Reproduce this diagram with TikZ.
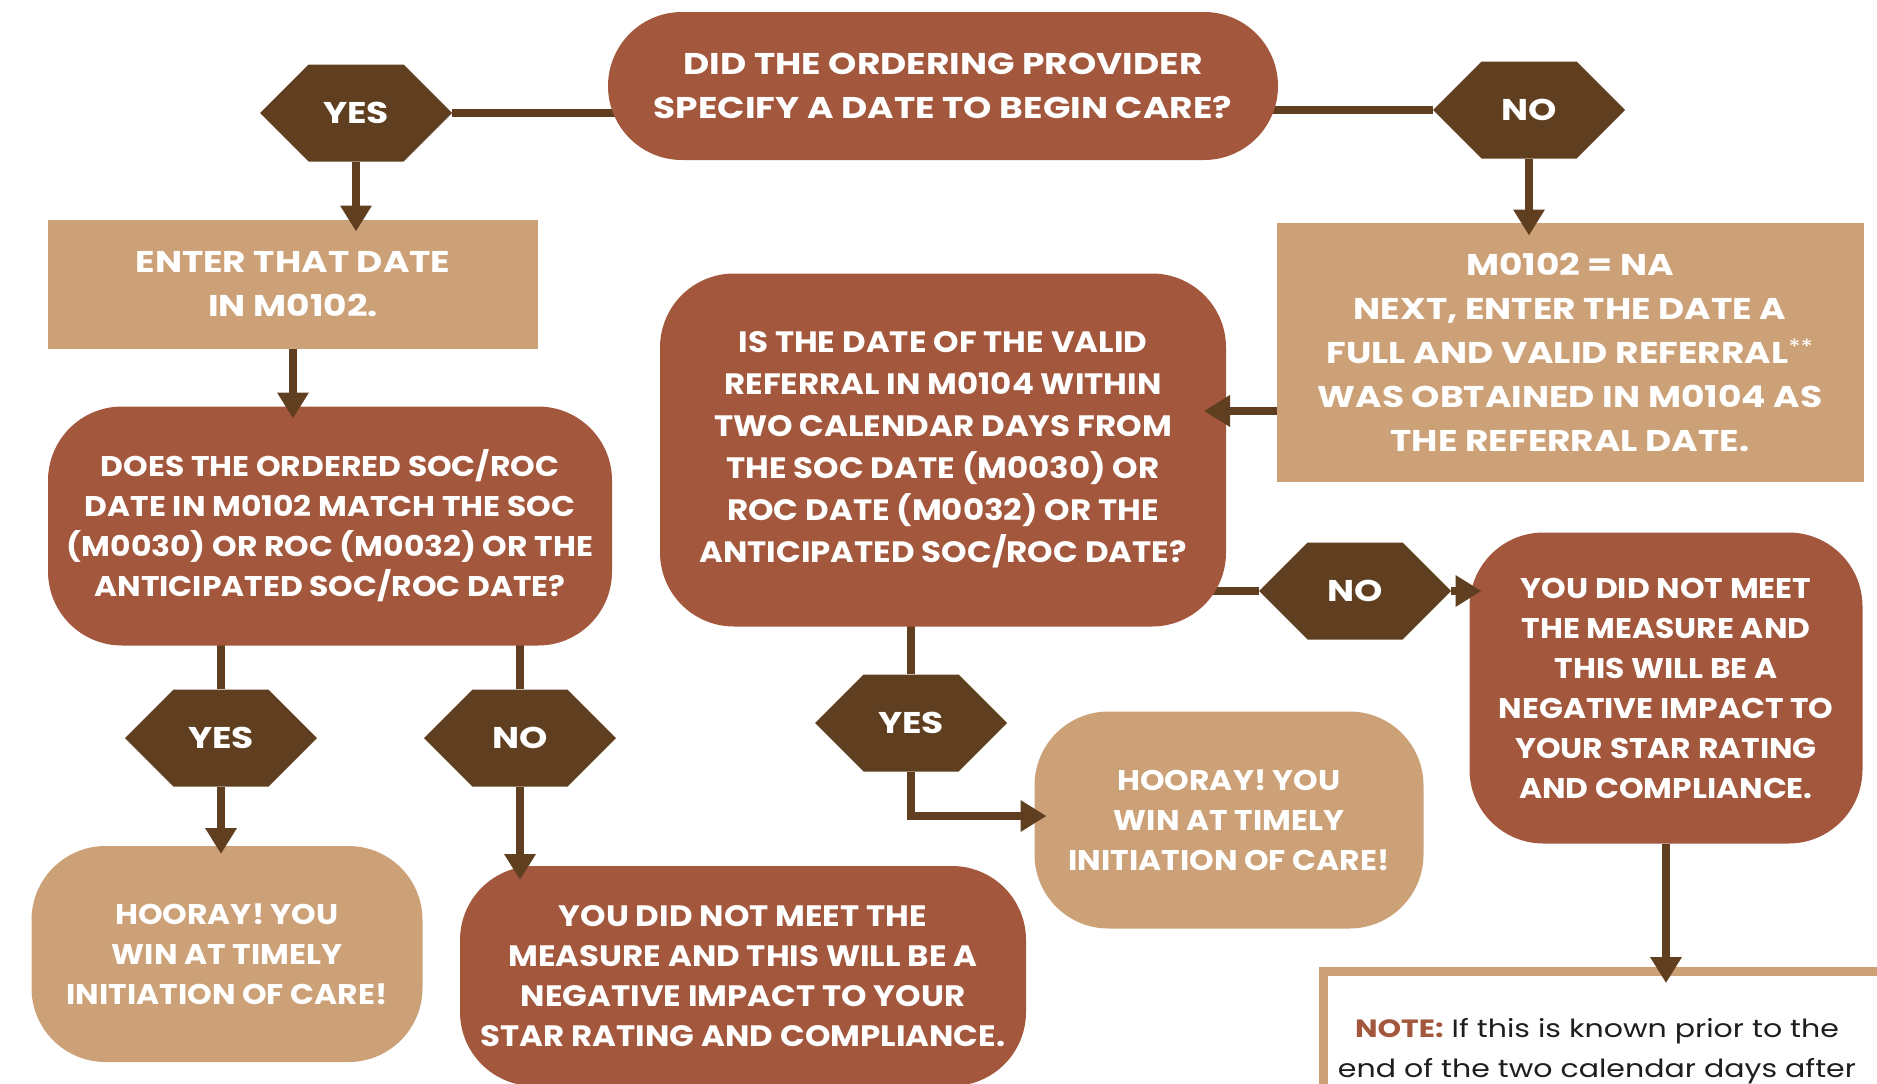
\documentclass[tikz,border=0pt]{standalone}
\usepackage{fontspec}
\setmainfont{Poppins}[FakeStretch=1.2]
\newfontfamily\slimfont{Poppins}[FakeStretch=1.1]
\usepackage{xcolor}
\usepackage{tikz}
\usetikzlibrary{arrows.meta, shapes.symbols, backgrounds}
\definecolor{rust}{HTML}{A3573D}
\definecolor{sand}{HTML}{CDA177}
\definecolor{bark}{HTML}{5F3F20}
\definecolor{ink}{HTML}{1E1E1E}
\tikzset{
	x = 1pt,
	y = -1pt,
	line width = 7.5pt,
	>={Triangle[length=26pt,width=30pt]},
	font = \bfseries\fontsize{30}{42}\selectfont,
	slim/.style={font=\slimfont\bfseries\fontsize{#1}{40}\selectfont},
	card/.style={
		text=white,
		align=center,
		inner sep=0pt,
		outer sep=0pt
	},
	ask/.style={
		card,
		fill=rust,
		rounded corners=74pt
	},
	win/.style={
		card,
		fill=sand,
		rounded corners=74pt
	},
	plain/.style={
		card,
		fill=sand
	},
	hexa/.style={
		signal,
		signal to=east and west,
		signal pointer angle=90,
		fill=bark,
		text=white,
		inner sep=0pt,
		outer sep=0pt,
		minimum width=192pt,
		minimum height=97pt
	},
	link/.style={
		draw=bark,
		line width=7.5pt
	},
	arr/.style={
		link,
		->,
		shorten >=-12pt
	}
}

\begin{document}
\begin{tikzpicture}
	\useasboundingbox (0,0) rectangle (1877,1084);
	\clip (0,0) rectangle (1877,1084);

	% questions
	\node[ask, minimum width=670pt, minimum height=148pt, font=\bfseries\fontsize{30}{44}\selectfont] (q1) at (943,86)
		{DID THE ORDERING PROVIDER\\SPECIFY A DATE TO BEGIN CARE?};
	\node[ask, minimum width=564pt, minimum height=239pt, slim=28.5] (q2) at (330,526)
		{DOES THE ORDERED SOC/ROC\\DATE IN M0102 MATCH THE SOC\\(M0030) OR ROC (M0032) OR THE\\ANTICIPATED SOC/ROC DATE?};
	\node[ask, minimum width=566pt, minimum height=353pt, font=\slimfont\bfseries\fontsize{29.5}{42}\selectfont] (q3) at (943,450)
		{IS THE DATE OF THE VALID\\REFERRAL IN M0104 WITHIN\\TWO CALENDAR DAYS FROM\\THE SOC DATE (M0030) OR\\ROC DATE (M0032) OR THE\\ANTICIPATED SOC/ROC DATE?};

	% steps
	\node[plain, minimum width=490pt, minimum height=129pt, font=\bfseries\fontsize{30}{44}\selectfont] (enter) at (293,284)
		{ENTER THAT DATE\\IN M0102.};
	\node[plain, minimum width=587pt, minimum height=259pt, font=\bfseries\fontsize{30}{44}\selectfont] (na) at (1570,352)
		{M0102 = NA\\NEXT, ENTER THE DATE A\\FULL AND VALID REFERRAL{\mdseries\textsuperscript{**}}\\WAS OBTAINED IN M0104 AS\\THE REFERRAL DATE.};

	% outcomes
	\node[win, minimum width=391pt, minimum height=216pt, slim=28.5] (win1) at (227,954)
		{HOORAY! YOU\\WIN AT TIMELY\\INITIATION OF CARE!};
	\node[win, minimum width=389pt, minimum height=217pt, slim=28.5] (win2) at (1229,820)
		{HOORAY! YOU\\WIN AT TIMELY\\INITIATION OF CARE!};
	\node[ask, minimum width=566pt, minimum height=220pt, slim=29.5] (fail1) at (743,976)
		{YOU DID NOT MEET THE\\MEASURE AND THIS WILL BE A\\NEGATIVE IMPACT TO YOUR\\STAR RATING AND COMPLIANCE.};
	\node[ask, minimum width=393pt, minimum height=311pt, slim=28.5] (fail2) at (1666,688)
		{YOU DID NOT MEET\\THE MEASURE AND\\THIS WILL BE A\\NEGATIVE IMPACT TO\\YOUR STAR RATING\\AND COMPLIANCE.};

	% note
	\node[draw=sand, line width=9pt, fill=white, anchor=north west, minimum width=620pt, minimum height=300pt, inner sep=0pt] (note) at (1319,967) {};
	\node[text=ink, align=center, font=\fontsize{25}{40}\selectfont] (notetext) at (1597,1051)
		{\textcolor{rust}{\bfseries NOTE:} If this is known prior to the\\end of the two calendar days after};

	% answers
	\foreach \n/\t/\x/\y in {yes1/YES/356/113, no1/NO/1529/110, yes2/YES/221/738, no2/NO/520/738, yes3/YES/911/723, no3/NO/1355/591} {
		\node[hexa] (\n) at (\x,\y) {\t};
	}

	\begin{pgfonlayer}{background}
		\draw[link] (yes1) -- (yes1 -| q1);
		\draw[link] (no1) -- (no1 -| q1);
		\draw[link] (yes2) -- (yes2 |- q2);
		\draw[link] (no2) -- (no2 |- q2);
		\draw[link] (yes3) -- (yes3 |- q3);
		\draw[link] (no3) -- (no3 -| q3);
	\end{pgfonlayer}

	\draw[arr] (yes1.south) -- (yes1.south |- enter.north);
	\draw[arr] (enter.south) -- (enter.south |- q2.north);
	\draw[arr, shorten >=-13pt] (no1.south) -- (no1.south |- na.north);
	\draw[arr, shorten >=-22pt] ([yshift=-59pt]na.west) -- ([yshift=-59pt]na.west -| q3.east);
	\draw[arr, shorten >=-8pt] (yes2.south) -- (yes2.south |- win1.north);
	\draw[arr, shorten >=-14pt] (no2.south) -- (no2.south |- fail1.north);
	\draw[arr] (yes3.south) |- ([yshift=4pt]win2.west);
	\draw[arr] (no3.east) -- (no3.east -| fail2.west);
	\draw[arr, shorten >=-16pt] (fail2.south) -- (fail2.south |- note.north);
\end{tikzpicture}
\end{document}
